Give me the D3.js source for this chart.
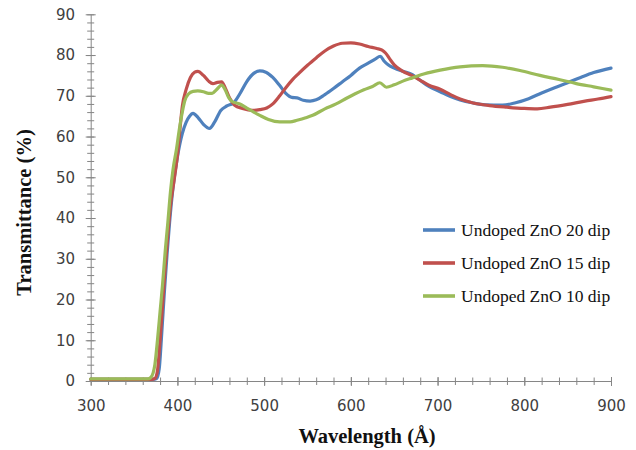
<!DOCTYPE html>
<html>
<head>
<meta charset="utf-8">
<script src="https://cdn.jsdelivr.net/npm/d3@7"></script>
<style>
  html, body { margin: 0; padding: 0; background: #fff; }
  svg { display: block; }
</style>
</head>
<body>
<svg id="chart" width="636" height="450"></svg>
<script>
// Optical transmittance spectra of undoped ZnO films, [wavelength, T%]
const dip20 = [
  [300,0.4],[320,0.4],[340,0.4],[360,0.4],[372,0.4],[376,0.6],[379,3],[382,12],[385,22],
  [388,31],[391,39],[395,47.6],[400,55],[405.7,60.8],[410,63.5],[414,65],[418,65.7],
  [424,64.6],[430,63],[437,62],[443,63.6],[450,66.4],[457,67.5],[465,68.3],[472,70.5],
  [480,73.5],[488,75.5],[495,76.1],[502,75.8],[510,74.5],[518,72.5],[525,70.6],[532,69.6],
  [538,69.5],[545,68.9],[553,68.7],[560,69],[570,70.3],[580,71.8],[590,73.4],[600,75],
  [610,76.8],[620,78],[628,79],[634,79.7],[638,78.6],[643,77.6],[650,76.8],[660,76],
  [671,75.2],[680,73.8],[690,72.3],[703,71],[715,69.8],[726,69],[740,68.3],[755,67.8],
  [775,67.7],[790,68.3],[805,69.3],[820,70.7],[835,72],[850,73.2],[865,74.5],[880,75.7],
  [900,76.8]
];
const dip15 = [
  [300,0.4],[320,0.4],[340,0.4],[360,0.4],[370,0.4],[374,0.6],[377,2.5],[380,10],[383,19],
  [386,28],[389,36],[392,43],[396,49],[400.7,56.6],[403,62],[405.7,67.5],[410,71.5],
  [415,74.5],[420,75.8],[423.5,76],[430,75],[436,73.6],[441,73],[446,73.3],[451,73.4],
  [455,72],[460,69.5],[466,67.7],[475,66.9],[487,66.4],[495,66.6],[503,67],[510,68],
  [518,70],[525,72],[532,73.8],[540,75.5],[550,77.5],[560,79.3],[570,81],[580,82.2],
  [590,82.9],[600,83],[610,82.7],[620,82.1],[630,81.6],[636,81.2],[640,80.5],[645,79],
  [650,77.6],[660,76],[670,75],[680,73.8],[690,72.6],[703,71.6],[715,70.3],[726,69.2],
  [740,68.3],[760,67.6],[780,67.2],[800,66.9],[815,66.8],[830,67.2],[850,67.9],
  [870,68.7],[885,69.2],[900,69.8]
];
const dip10 = [
  [300,0.5],[320,0.5],[340,0.5],[360,0.5],[366,0.5],[369,0.8],[372,2],[374,4],[377,10],
  [380,17],[383,24],[386,32],[389,39],[392,46.5],[395,52],[399,57],[402,61.5],[405,65.3],
  [408.5,68.8],[413,70.5],[418,71.1],[423.5,71.2],[430,71],[436,70.6],[440,70.6],
  [445,71.5],[451,72.6],[455,71.5],[459,69.6],[463,68.6],[472,68],[480,67],[488,66],
  [495,65.2],[505,64.2],[518,63.6],[530,63.6],[538,64],[548,64.6],[556,65.2],[570,66.8],
  [583,68],[595,69.4],[605,70.5],[615,71.5],[625,72.3],[633.5,73.2],[641,72.1],[650,72.7],
  [660,73.6],[671,74.4],[685,75.4],[703,76.3],[726,77.1],[752,77.4],[775,77],[795,76.2],
  [818,75],[840,74],[860,73],[880,72.2],[900,71.4]
];

const seriesNames = ["Undoped ZnO 20 dip", "Undoped ZnO 15 dip", "Undoped ZnO 10 dip"];
const seriesColors = ["#4F81BD", "#C0504D", "#9BBB59"];
const seriesData = [dip20, dip15, dip10];

const xMajorTicks = [300, 400, 500, 600, 700, 800, 900];
const xMinorTicks = d3.range(300, 901, 20);
const yMajorTicks = [0, 10, 20, 30, 40, 50, 60, 70, 80, 90];
const yMinorTicks = d3.range(0, 91, 2);

const xTitle = "Wavelength (Å)";
const yTitle = "Transmittance (%)";

const svg = d3.select("#chart");
const axisColor = "#868686";
const labelColor = "#404040";
const sans = "'DejaVu Sans', Verdana, sans-serif";
const serif = "'Liberation Serif', 'Times New Roman', serif";

const x = d3.scaleLinear().domain([300, 900]).range([90.7, 611]);
const y = d3.scaleLinear().domain([0, 90]).range([381, 14.3]);

// Minor ticks (crossing the axis lines)
const gxMinor = svg.append("g").attr("transform", `translate(0,${y(0)})`)
  .call(d3.axisBottom(x).tickValues(xMinorTicks).tickFormat("").tickSizeInner(4).tickSizeOuter(0));
gxMinor.select(".domain").remove();
gxMinor.selectAll(".tick line").attr("y1", -3.5).attr("stroke", axisColor);

const gyMinor = svg.append("g").attr("transform", `translate(${x(300)},0)`)
  .call(d3.axisLeft(y).tickValues(yMinorTicks).tickFormat("").tickSizeInner(3.5).tickSizeOuter(0));
gyMinor.select(".domain").remove();
gyMinor.selectAll(".tick line").attr("x1", 3.5).attr("stroke", axisColor);

// Major axes with labels
const gx = svg.append("g").attr("transform", `translate(0,${y(0)})`)
  .call(d3.axisBottom(x).tickValues(xMajorTicks).tickSizeInner(5).tickSizeOuter(0).tickPadding(14.4));
gx.select(".domain").attr("stroke", axisColor);
gx.selectAll(".tick line").attr("y1", -4).attr("stroke", axisColor);
gx.selectAll(".tick text").attr("fill", labelColor).style("font-family", sans).style("font-size", "15px");

const gy = svg.append("g").attr("transform", `translate(${x(300)},0)`)
  .call(d3.axisLeft(y).tickValues(yMajorTicks).tickSizeInner(5).tickSizeOuter(0).tickPadding(10.7));
gy.select(".domain").attr("stroke", axisColor);
gy.selectAll(".tick line").attr("x1", 5).attr("stroke", axisColor);
gy.selectAll(".tick text").attr("fill", labelColor).style("font-family", sans).style("font-size", "15px");

// Spectra
const line = d3.line()
  .x(d => x(d[0]))
  .y(d => y(d[1]))
  .curve(d3.curveMonotoneX);

svg.append("g").selectAll("path")
  .data(seriesData)
  .join("path")
  .attr("d", line)
  .attr("fill", "none")
  .attr("stroke", (d, i) => seriesColors[i])
  .attr("stroke-width", 3.2)
  .attr("stroke-linejoin", "round")
  .attr("stroke-linecap", "round");

// Axis titles
svg.append("text")
  .attr("x", 367).attr("y", 443)
  .attr("text-anchor", "middle")
  .style("font-family", serif).style("font-weight", "bold").style("font-size", "20.5px")
  .attr("fill", "#111")
  .text(xTitle);

svg.append("text")
  .attr("transform", "translate(31,212.5) rotate(-90)")
  .attr("text-anchor", "middle")
  .style("font-family", serif).style("font-weight", "bold").style("font-size", "20.5px")
  .attr("fill", "#111")
  .text(yTitle);

// Legend
const legend = svg.append("g");
const legendY = [230, 263, 296];
const items = legend.selectAll("g").data(seriesNames).join("g")
  .attr("transform", (d, i) => `translate(0,${legendY[i]})`);
items.append("line")
  .attr("x1", 423).attr("x2", 455).attr("y1", 0).attr("y2", 0)
  .attr("stroke", (d, i) => seriesColors[i]).attr("stroke-width", 3.6);
items.append("text")
  .attr("x", 461).attr("y", 5.5)
  .style("font-family", serif).style("font-size", "17.5px")
  .attr("fill", "#111")
  .text(d => d);
</script>
</body>
</html>
